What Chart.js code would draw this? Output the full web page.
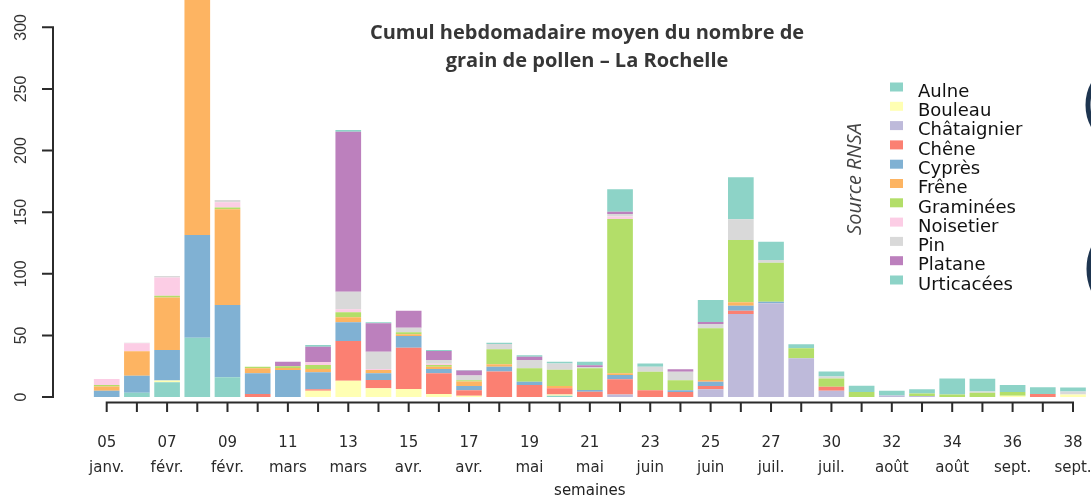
<!DOCTYPE html>
<html>
<head>
<meta charset="utf-8">
<script src="https://cdn.jsdelivr.net/npm/chart.js@4"></script>
<style>
  html, body { margin: 0; padding: 0; background: #fff; }
  canvas { display: block; }
</style>
</head>
<body>
<canvas id="c" width="1091" height="498"></canvas>
<script>
// Week numbers and their months (one entry per bar)
const weeks = ['05','06','07','08','09','10','11','12','13','14','15','16','17','18','19','20','21','22','23','24','25','26','27','28','30','31','32','33','34','35','36','37','38'];
const months = ['janv.','févr.','févr.','févr.','févr.','mars','mars','mars','mars','avr.','avr.','avr.','avr.','mai','mai','mai','mai','juin','juin','juin','juin','juin','juil.','juil.','juil.','juil.','août','août','août','août','sept.','sept.','sept.'];

// Mean weekly pollen grain totals per taxon
const aulne       = [0,3.5,12,48,16,0,0,0,0,0, 0,0,0,0,0,1,0,0,0,0, 0,0,0,0,0,0,0,0,0,0, 0,0,0];
const bouleau     = [0,0,1.3,0,0,0,0,5,13.2,7, 6.5,2.4,1,0,0,1,0,0,0,0, 0,0,0,0,0,0,0,0,0,0, 1,0,2];
const chataignier = [0,0,0,0,0,0,0,0,0,0, 0,0,0,0,0,0,0,2,0,0, 6.2,67.4,76,31.4,5,0,1.2,0.8,0,0, 0,0,0];
const chene       = [0,0,0,0,0,2.4,0,1.2,32.3,6.8, 33.5,16.8,4.5,20.6,9.7,5,4.3,12.5,5.5,4, 2.7,2.6,0,0,3.3,0,0,0,0,0, 0,2.5,0];
const cypres      = [5,13.8,24.9,83.4,58.7,16.8,22,13.8,15.1,5.4, 9.5,3.5,3.5,4,2.7,0,1.4,3.4,0,1.5, 3.5,4.1,1.4,0,0,0,0,0,0,0, 0,0,0];
const frene       = [3.5,19.8,42.5,215,77.6,4.1,1.5,2.7,4.1,2.7, 1.5,1.9,3.5,1.9,0,2,0,1.3,0,0, 1.4,2.8,0,0,0,0,0,0,0,0, 0,0,0];
const graminees   = [1.2,0,1.4,0,1.4,1.3,1.5,3.3,4,0, 1.5,1.4,1,12.2,10.9,13.2,17.6,125.3,15,8, 42,50.5,31.6,8.1,6.8,4,0,2,2,3.5, 3,0,0];
const noisetier   = [5,6.5,14.9,0,4.3,0,0,2.2,2.5,0.8, 0,1,0,0,0,0,0,2,0,0, 0,0,0,0,0,0,0,0,0,0, 0,0,0];
const pin         = [0,0.5,1.3,0,1.9,0,0,0,14.3,14.1, 3.8,3,4,4.3,6.7,5,1,2,4,7, 3.5,16.8,2.2,0,1.5,0,0,0,0,1, 0,0,2.5];
const platane     = [0,0,0,0,0,0,3.7,12.6,129.8,23, 13.7,7.3,4,0,2.7,0,1.4,1.9,0,2, 1.6,0,0,0,0,0,0,0,0,0, 0,0,0];
const urticacees  = [0,0,0,0,0,0,0,1.4,1.4,0.8, 0,0.8,0.5,1,1.1,1.5,3,18.2,2.7,0, 17.8,34.1,14.8,3.3,4,5.2,3.9,3.5,13,10.4, 5.7,5.4,3.2];

const taxa = ['Aulne','Bouleau','Châtaignier','Chêne','Cyprès','Frêne','Graminées','Noisetier','Pin','Platane','Urticacées'];
const values = [aulne, bouleau, chataignier, chene, cypres, frene, graminees, noisetier, pin, platane, urticacees];
const colors = ['#8DD3C7','#FFFFB3','#BEBADA','#FB8072','#80B1D3','#FDB462','#B3DE69','#FCCDE5','#D9D9D9','#BC80BD','#8DD3C7'];

const yTickValues = [0, 50, 100, 150, 200, 250, 300];
const Y_MAX = 322.2;

// Axes in base-graphics style, overlaid title, source note, legend and side ornaments
const frame = {
  id: 'frame',
  afterDraw(chart) {
    const c = chart.ctx, area = chart.chartArea;
    const xs = chart.scales.x, ys = chart.scales.y;
    c.save();

    // y axis
    const axX = area.left - 38.6;
    c.strokeStyle = '#2b2b2b';
    c.lineWidth = 2;
    c.beginPath();
    c.moveTo(axX, ys.getPixelForValue(yTickValues[0]));
    c.lineTo(axX, ys.getPixelForValue(yTickValues[yTickValues.length - 1]));
    yTickValues.forEach(v => {
      const p = ys.getPixelForValue(v);
      c.moveTo(axX + 1, p);
      c.lineTo(axX - 11, p);
    });
    c.stroke();
    c.fillStyle = '#333';
    c.font = '16px "Liberation Sans", Arial, sans-serif';
    c.textAlign = 'center';
    c.textBaseline = 'middle';
    yTickValues.forEach(v => {
      c.save();
      c.translate(axX - 31.5, ys.getPixelForValue(v));
      c.rotate(-Math.PI / 2);
      c.fillText(String(v), 0, 0);
      c.restore();
    });

    // x axis
    const axY = area.bottom + 5.5;
    const n = xs.ticks.length;
    c.beginPath();
    c.moveTo(xs.getPixelForTick(0) - 1, axY);
    c.lineTo(xs.getPixelForTick(n - 1) + 1, axY);
    for (let i = 0; i < n; i++) {
      const p = xs.getPixelForTick(i);
      c.moveTo(p, axY);
      c.lineTo(p, axY + 9.5);
    }
    c.stroke();

    // title
    c.fillStyle = '#363636';
    c.font = 'bold 20px "Open Sans", sans-serif';
    c.textAlign = 'center';
    c.textBaseline = 'alphabetic';
    c.fillText('Cumul hebdomadaire moyen du nombre de', 587, 38.5);
    c.fillText('grain de pollen \u2013 La Rochelle', 587, 67);

    // source note
    c.save();
    c.translate(855.5, 179);
    c.rotate(-Math.PI / 2);
    c.fillStyle = '#444';
    c.font = 'italic 20px "Open Sans", sans-serif';
    c.textAlign = 'center';
    c.textBaseline = 'middle';
    c.fillText('Source RNSA', 0, 0);
    c.restore();

    // legend
    c.font = '18px "DejaVu Sans", sans-serif';
    c.textAlign = 'left';
    c.textBaseline = 'alphabetic';
    chart.data.datasets.forEach((ds, i) => {
      c.fillStyle = ds.backgroundColor;
      c.fillRect(890, 82.5 + i * 19.3, 13, 9);
      c.fillStyle = '#111';
      c.fillText(ds.label, 918, 96.7 + i * 19.3);
    });

    // ornaments cut by the right edge
    c.strokeStyle = '#1e3550';
    c.lineWidth = 5;
    c.beginPath();
    c.arc(1131, 105, 43, 0, Math.PI * 2);
    c.stroke();
    c.beginPath();
    c.arc(1139, 269, 50, 0, Math.PI * 2);
    c.stroke();

    c.restore();
  }
};

new Chart(document.getElementById('c').getContext('2d'), {
  type: 'bar',
  data: {
    labels: weeks,
    datasets: taxa.map((name, i) => ({
      label: name,
      data: values[i],
      backgroundColor: colors[i],
      borderWidth: 0,
      barPercentage: 0.85,
      categoryPercentage: 1
    }))
  },
  options: {
    responsive: false,
    animation: false,
    layout: { padding: { top: 0, right: 2.9, bottom: 0, left: 0 } },
    plugins: {
      legend: { display: false },
      tooltip: { enabled: false },
      title: { display: false }
    },
    scales: {
      x: {
        stacked: true,
        grid: { display: true, drawOnChartArea: false, drawTicks: true, tickLength: 34, color: 'rgba(0,0,0,0)' },
        border: { display: false },
        ticks: {
          autoSkip: false,
          maxRotation: 0,
          minRotation: 0,
          padding: 0,
          color: '#2a2a2a',
          font: { family: '"DejaVu Sans", sans-serif', size: 15, lineHeight: '25px' },
          callback: (v, i) => (i % 2 === 0 ? [weeks[i], months[i]] : '')
        },
        title: {
          display: true,
          text: 'semaines',
          color: '#222',
          font: { family: '"DejaVu Sans", sans-serif', size: 15 },
          padding: { top: 0, bottom: -2 }
        },
        afterFit: s => { s.height = 101; s.paddingLeft = 0; s.paddingRight = 0; }
      },
      y: {
        stacked: true,
        min: 0,
        max: Y_MAX,
        grid: { display: false, drawTicks: false },
        border: { display: false },
        ticks: { display: false, stepSize: 50 },
        afterBuildTicks: s => { s.ticks = s.ticks.filter(t => t.value % 50 === 0); },
        afterFit: s => { s.width = 91.6; }
      }
    }
  },
  plugins: [frame]
});
</script>
</body>
</html>
